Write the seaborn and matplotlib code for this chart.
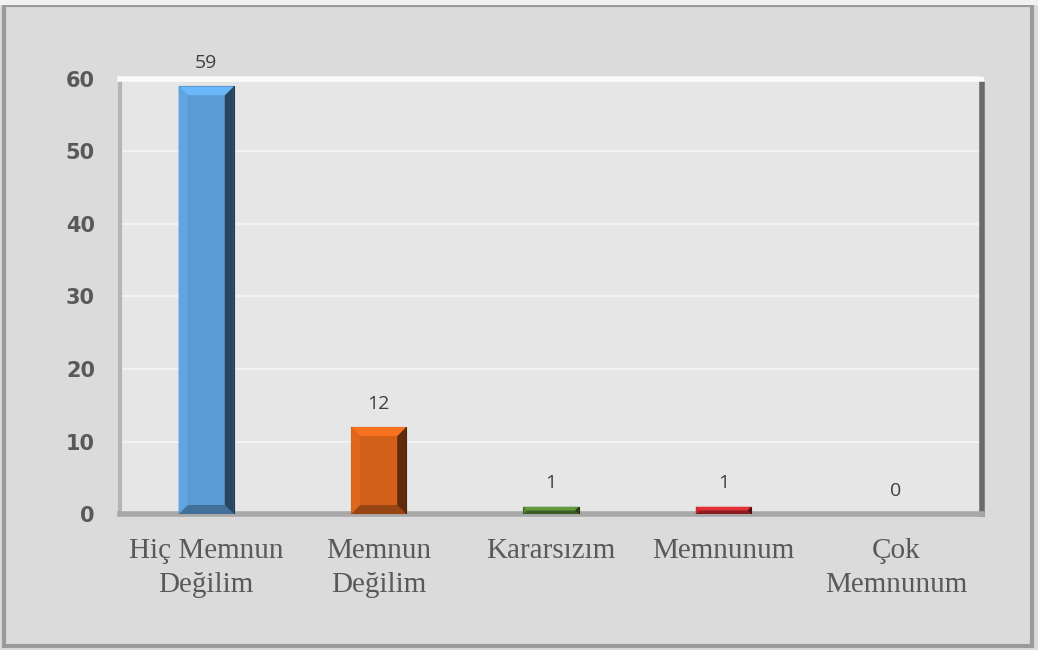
import matplotlib
matplotlib.use("Agg")
import matplotlib.pyplot as plt
import seaborn as sns
import pandas as pd
from matplotlib.patches import Polygon, Rectangle
from matplotlib.colors import to_rgb

# chart data
categories = ["Hiç Memnun\nDeğilim", "Memnun\nDeğilim", "Kararsızım", "Memnunum", "Çok\nMemnunum"]
counts = [59, 12, 1, 1, 0]
bar_colors = ["#5b9bd5", "#d2601a", "#548235", "#c0282d", "#7f7f7f"]
y_ticks = [0, 10, 20, 30, 40, 50, 60]

df = pd.DataFrame({"category": categories, "count": counts})

sns.set_theme(style="white")
plt.rcParams["font.family"] = ["DejaVu Sans"]

fig = plt.figure(figsize=(10.38, 6.5), dpi=100)
fig.patch.set_facecolor("#dcdbdb")
ax = fig.add_axes([0.1156, 0.2092, 0.8305, 0.6693])
ax.set_facecolor("#e6e6e6")

sns.barplot(data=df, x="category", y="count", hue="category", palette=bar_colors,
            width=0.32, legend=False, ax=ax, zorder=3, saturation=1)

ax.set_ylim(0, 60)
ax.set_xlim(-0.5, len(categories) - 0.5)
ax.set_yticks(y_ticks)
ax.yaxis.grid(True, color="#f4f4f4", linewidth=1.3, zorder=0)
ax.set_axisbelow(True)
ax.set_xlabel("")
ax.set_ylabel("")
ax.tick_params(axis="y", length=0, pad=18, labelsize=15, labelcolor="#595959")
for lbl in ax.get_yticklabels():
    lbl.set_fontweight("bold")
ax.tick_params(axis="x", length=0, pad=17)
ax.set_xticks(range(len(categories)))
ax.set_xticklabels(categories, fontfamily="Liberation Serif", fontsize=21,
                   color="#595959", linespacing=1.4)

# plot area bevel look
ax.spines["top"].set_color("#fbfbfb")
ax.spines["top"].set_linewidth(4)
ax.spines["left"].set_color("#b5b5b5")
ax.spines["left"].set_linewidth(3)
ax.spines["right"].set_color("#6a6a6a")
ax.spines["right"].set_linewidth(4)
ax.spines["bottom"].set_color("#a8a8a8")
ax.spines["bottom"].set_linewidth(4)

# bevel shading on bars
fig.canvas.draw()
to_data = ax.transData.inverted()
bev_px = 9
for patch, val in zip(ax.patches, counts):
    if val <= 0:
        patch.set_linewidth(0)
        continue
    x0, y0 = patch.get_x(), patch.get_y()
    w, h = patch.get_width(), patch.get_height()
    (px0, py0) = ax.transData.transform((x0, y0))
    (px1, py1) = ax.transData.transform((x0 + w, y0 + h))
    b = min(bev_px, (py1 - py0) / 2, (px1 - px0) / 2)
    corners = [(px0, py0), (px1, py0), (px1, py1), (px0, py1)]
    inner = [(px0 + b, py0 + b), (px1 - b, py0 + b), (px1 - b, py1 - b), (px0 + b, py1 - b)]
    base = to_rgb(patch.get_facecolor())
    shades = [0.72, 0.45, 1.18, 1.06]  # bottom, right, top, left
    sides = [(0, 1), (1, 2), (2, 3), (3, 0)]
    for (i, j), s in zip(sides, shades):
        pts = [corners[i], corners[j], inner[j], inner[i]]
        pts = [to_data.transform(p) for p in pts]
        col = tuple(min(1, c * s) for c in base)
        ax.add_patch(Polygon(pts, closed=True, facecolor=col, edgecolor="none", zorder=4))
    patch.set_edgecolor(tuple(c * 0.35 for c in base))
    patch.set_linewidth(0.8)

# data labels
for i, val in enumerate(counts):
    ax.text(i, val + 2.0, str(val), ha="center", va="bottom", fontsize=14,
            color="#404040", fontfamily="Open Sans", zorder=5)

# outer frame
fig.patches.append(Rectangle((0.004, 0.006), 0.99, 0.987, transform=fig.transFigure,
                             fill=False, edgecolor="#9a9a9a", linewidth=3))
fig.patches.append(Rectangle((0.0, 0.992), 1.0, 0.008, transform=fig.transFigure,
                             facecolor="#f2f2f2", edgecolor="none"))

fig.savefig("out.png", dpi=100, facecolor=fig.get_facecolor())
